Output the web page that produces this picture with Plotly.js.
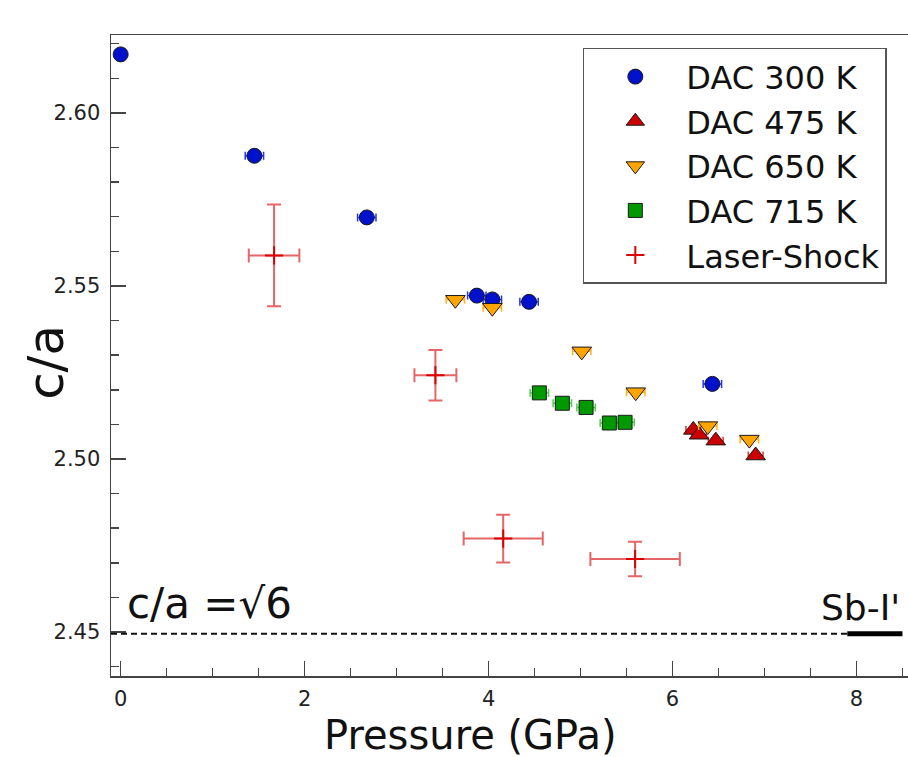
<!DOCTYPE html>
<html>
<head>
<meta charset="utf-8">
<script src="https://cdn.plot.ly/plotly-3.0.1.min.js"></script>
<style>html,body{margin:0;padding:0;background:#fff;}#chart{width:908px;height:757px;}</style>
</head>
<body>
<div id="chart"></div>
<script>
// ---- Data ----
const dac300P  = [0.00, 1.454, 2.676, 3.872, 4.041, 4.440, 6.433];
const dac300CA = [2.6169, 2.5876, 2.5698, 2.5472, 2.5461, 2.5454, 2.5217];
const dac300Err = [0.0, 0.1, 0.1, 0.1, 0.1, 0.1, 0.1];

const dac475P  = [6.226, 6.288, 6.470, 6.904];
const dac475CA = [2.5084, 2.5070, 2.5053, 2.5010];
const dac475Err = [0.08, 0.08, 0.08, 0.08];

const dac650P  = [3.639, 4.041, 5.013, 5.600, 6.383, 6.835];
const dac650CA = [2.5460, 2.5437, 2.5311, 2.5193, 2.5095, 2.5056];
const dac650Err = [0.1, 0.1, 0.1, 0.1, 0.1, 0.1];

const dac715P  = [4.552, 4.802, 5.060, 5.313, 5.484];
const dac715CA = [2.5191, 2.5161, 2.5149, 2.5104, 2.5106];
const dac715Err = [0.1, 0.1, 0.1, 0.1, 0.1];

const laserP    = [1.668, 3.422, 4.159, 5.593];
const laserCA   = [2.5588, 2.5242, 2.4770, 2.4711];
const laserPErr = [0.275, 0.228, 0.430, 0.486];
const laserCAErr = [0.0147, 0.0073, 0.0069, 0.0050];

const seriesNames = ['DAC 300 K', 'DAC 475 K', 'DAC 650 K', 'DAC 715 K', 'Laser-Shock'];
const xTitle = 'Pressure (GPa)';
const yTitle = 'c/a';

const idealRatio = Math.sqrt(6);      // c/a = sqrt(6)
const sbIStart = 7.9;                 // start of Sb-I' bar
const sbIEnd = 8.5;
const xRange = [-0.105, 8.56];
const yRange = [2.4373, 2.6225];

const mline = {color: '#1a1a1a', width: 1};

function errX(arr, color) {
  return {type: 'data', array: arr, visible: true, color: color, thickness: 1.5, width: 4};
}

const traces = [
  {x: dac300P, y: dac300CA, name: seriesNames[0], mode: 'markers', type: 'scatter', legendgroup: 'g1',
   marker: {symbol: 'circle', size: 15, color: '#0011cc', line: mline},
   error_x: errX(dac300Err, '#2233ee')},
  {x: dac475P, y: dac475CA, name: seriesNames[1], mode: 'markers', type: 'scatter', legendgroup: 'g2',
   marker: {symbol: 'triangle-up', size: 17, color: '#cc0000', line: mline},
   error_x: errX(dac475Err, '#dd3333')},
  {x: dac650P, y: dac650CA, name: seriesNames[2], mode: 'markers', type: 'scatter', legendgroup: 'g3',
   marker: {symbol: 'triangle-down', size: 17, color: '#ffa500', line: mline},
   error_x: errX(dac650Err, '#ffb31a')},
  {x: dac715P, y: dac715CA, name: seriesNames[3], mode: 'markers', type: 'scatter', legendgroup: 'g4',
   marker: {symbol: 'square', size: 14, color: '#009900', line: mline},
   error_x: errX(dac715Err, '#55cc55')},
  {x: laserP, y: laserCA, name: seriesNames[4], mode: 'markers', type: 'scatter', legendgroup: 'g5',
   marker: {symbol: 'cross-thin', size: 13, color: '#dd0000', line: {color: '#dd0000', width: 2}},
   error_x: {type: 'data', array: laserPErr, visible: true, color: 'rgba(215,20,20,0.65)', thickness: 2, width: 7},
   error_y: {type: 'data', array: laserCAErr, visible: true, color: 'rgba(215,20,20,0.65)', thickness: 2, width: 7}}
];

const axisColor = '#444';
const tickFont = {family: 'DejaVu Sans, sans-serif', size: 21, color: '#222'};

const layout = {
  width: 908, height: 757,
  paper_bgcolor: '#fff', plot_bgcolor: '#fff',
  margin: {l: 111, r: 0, t: 35, b: 81},
  showlegend: true,
  legend: {
    x: 0.592, y: 0.98, xanchor: 'left', yanchor: 'top',
    bordercolor: '#555', borderwidth: 1.5, bgcolor: '#fff',
    font: {family: 'DejaVu Sans, sans-serif', size: 32, color: '#111'},
    traceorder: 'grouped', tracegroupgap: 0, itemwidth: 92
  },
  xaxis: {
    range: xRange, autorange: false,
    showgrid: false, zeroline: false,
    showline: true, linecolor: axisColor, linewidth: 1.5, mirror: true,
    ticks: 'inside', ticklen: 15, tickwidth: 1.5, tickcolor: axisColor,
    tick0: 0, dtick: 2, tickfont: tickFont, ticklabelstandoff: 3,
    minor: {dtick: 0.5, ticks: 'inside', ticklen: 8, tickwidth: 1.5, tickcolor: axisColor, showgrid: false}
  },
  yaxis: {
    range: yRange, autorange: false,
    showgrid: false, zeroline: false,
    showline: true, linecolor: axisColor, linewidth: 1.5, mirror: false,
    ticks: 'inside', ticklen: 15, tickwidth: 1.5, tickcolor: axisColor,
    tick0: 2.45, dtick: 0.05, tickformat: '.2f', tickfont: tickFont, ticklabelstandoff: 5,
    minor: {dtick: 0.01, ticks: 'inside', ticklen: 8, tickwidth: 1.5, tickcolor: axisColor, showgrid: false}
  },
  shapes: [
    {type: 'line', xref: 'x', yref: 'y', x0: xRange[0], x1: sbIStart, y0: idealRatio, y1: idealRatio,
     line: {color: '#111', width: 2, dash: '6px,4px'}},
    {type: 'line', xref: 'x', yref: 'y', x0: sbIStart, x1: sbIEnd, y0: idealRatio, y1: idealRatio,
     line: {color: '#000', width: 5}}
  ],
  annotations: [
    {xref: 'paper', yref: 'paper', x: 0.4505, y: -0.092, xanchor: 'center', yanchor: 'middle',
     text: xTitle, showarrow: false,
     font: {family: 'DejaVu Sans, sans-serif', size: 40, color: '#111'}},
    {xref: 'paper', yref: 'paper', x: -0.0816, y: 0.49, xanchor: 'center', yanchor: 'middle',
     text: yTitle, showarrow: false, textangle: -90,
     font: {family: 'DejaVu Sans, sans-serif', size: 50, color: '#111'}},
    {xref: 'x', yref: 'y', x: 0.05, y: idealRatio, xanchor: 'left', yanchor: 'bottom', yshift: 4,
     text: 'c/a =\u221A6', showarrow: false,
     font: {family: 'DejaVu Sans, sans-serif', size: 42, color: '#111'}},
    {xref: 'x', yref: 'y', x: sbIEnd, y: idealRatio, xanchor: 'right', yanchor: 'bottom', yshift: 4,
     text: "Sb-I'", showarrow: false,
     font: {family: 'DejaVu Sans, sans-serif', size: 36, color: '#111'}}
  ]
};

Plotly.newPlot('chart', traces, layout, {displayModeBar: false, staticPlot: true});
</script>
</body>
</html>
